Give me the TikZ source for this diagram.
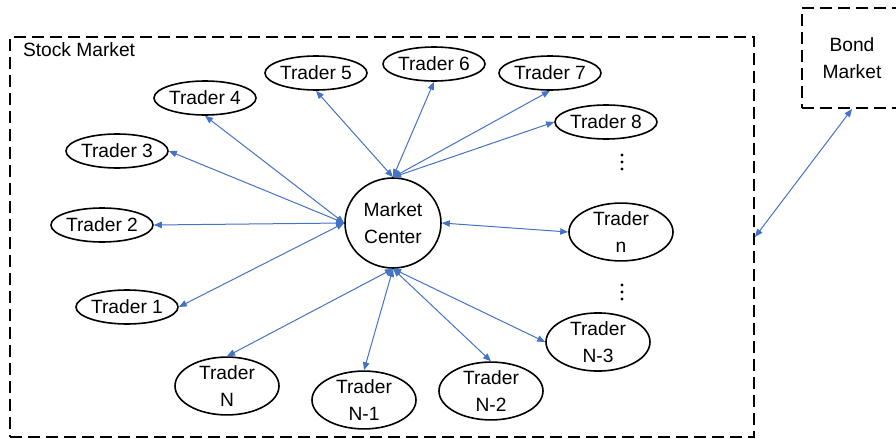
\documentclass[tikz,border=0pt]{standalone}
\usepackage{fontspec}
\setmainfont{Liberation Sans}
\usetikzlibrary{arrows.meta,shapes}
\definecolor{linkblue}{HTML}{4472C4}

\begin{document}
\begin{tikzpicture}[x=0.5pt,y=-0.5pt,
    txt/.style={font=\fontsize{9.6}{13.5}\selectfont,align=center},
    trader/.style={txt,draw,ellipse,line width=0.8pt,inner sep=0pt,minimum width=51pt,minimum height=17pt},
    tall/.style={trader,minimum width=52pt,minimum height=25pt},
    market/.style={draw,dash pattern=on 6pt off 3pt,line width=1pt,inner sep=0pt},
    link/.style={{Triangle[length=4pt,width=3.2pt]}-{Triangle[length=4pt,width=3.2pt]},draw=linkblue,line width=0.5pt}]
    \useasboundingbox (0,0) rectangle (896,439);
    \clip (0,0) rectangle (896,439);
    % the two markets
    \node[market,minimum width=372pt,minimum height=200pt] (stock) at (382,237) {};
    \node[txt,anchor=west] (stocklbl) at (16,50) {Stock Market};
    \node[market,txt,minimum width=50pt,minimum height=50pt] (bond) at (852,58) {Bond\\Market};
    % centre and traders
    \node[trader,minimum width=48pt,minimum height=45pt] (mc) at (393,223) {Market\\Center};
    \node[trader] (t1) at (127,307) {Trader 1};
    \node[trader] (t2) at (102,225) {Trader 2};
    \node[trader] (t3) at (117,151) {Trader 3};
    \node[trader] (t4) at (205,98) {Trader 4};
    \node[trader] (t5) at (316,73) {Trader 5};
    \node[trader] (t6) at (434,64) {Trader 6};
    \node[trader] (t7) at (550,73) {Trader 7};
    \node[trader] (t8) at (606,122) {Trader 8};
    \node[tall] (tn) at (621,232) {Trader\\n};
    \node[tall] (tN3) at (598,342) {Trader\\N-3};
    \node[tall] (tN2) at (491,391) {Trader\\N-2};
    \node[tall] (tN1) at (364,400) {Trader\\N-1};
    \node[tall] (tN) at (227,386) {Trader\\N};
    % vertical dots
    \coordinate (dotsA) at (622,162);
    \coordinate (dotsB) at (622,292);
    \foreach \d in {-7,0,7} {
        \fill ([yshift=\d*0.5pt]dotsA) circle (0.8pt);
        \fill ([yshift=\d*0.5pt]dotsB) circle (0.8pt);
    }
    % links
    \draw[link] (mc.west) -- (t1.east);
    \draw[link] (mc.west) -- (t2.east);
    \draw[link] (mc.west) -- (t3.east);
    \draw[link] (mc.west) -- (t4.south);
    \draw[link] (mc.north) -- (t5.south);
    \draw[link] (mc.north) -- (t6.south);
    \draw[link] (mc.north) -- (t7.south);
    \draw[link] (mc.north) -- (t8.west);
    \draw[link] (mc.east) -- (tn.west);
    \draw[link] (mc.south) -- (tN3.west);
    \draw[link] (mc.south) -- (tN2.north);
    \draw[link] (mc.south) -- (tN1.north);
    \draw[link] (mc.south) -- (tN.north);
    \draw[link] (bond.south) -- (stock.east);
\end{tikzpicture}
\end{document}
